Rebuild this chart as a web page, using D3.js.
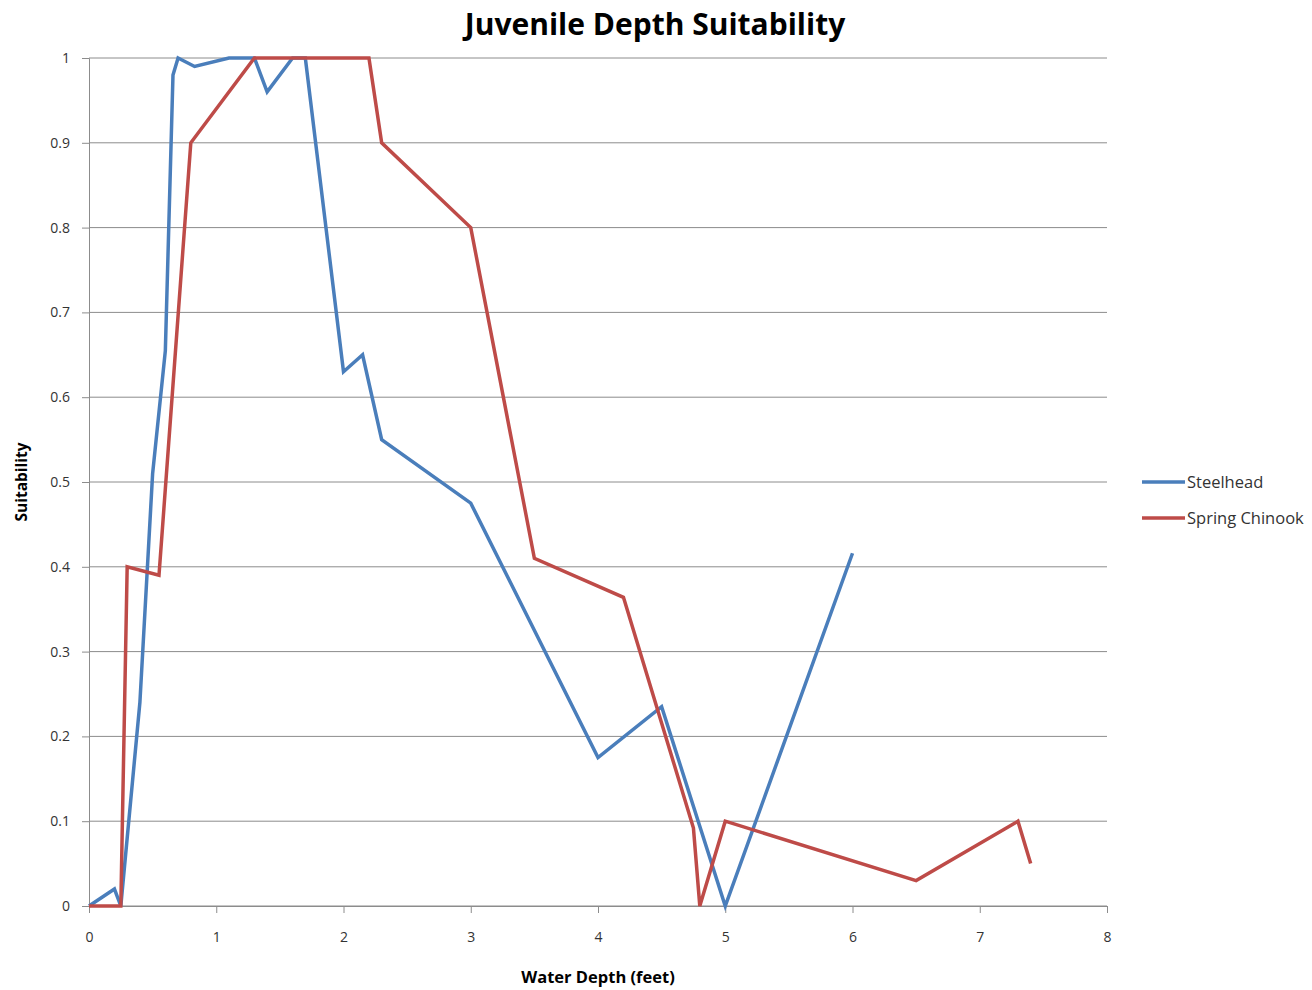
<!DOCTYPE html>
<html><head><meta charset="utf-8">
<script src="https://cdn.jsdelivr.net/npm/d3@7"></script>
<style>body{margin:0;background:#fff}svg{display:block}</style>
</head><body>
<svg id="c" width="1312" height="990"></svg>
<script>
const title = "Juvenile Depth Suitability";
const xTitle = "Water Depth (feet)";
const yTitle = "Suitability";
const xTicks = [0,1,2,3,4,5,6,7,8];
const yTicks = [0,0.1,0.2,0.3,0.4,0.5,0.6,0.7,0.8,0.9,1];
const seriesNames = ["Steelhead","Spring Chinook"];
const steelheadX = [0,0.2,0.25,0.4,0.5,0.6,0.66,0.7,0.83,1.1,1.3,1.4,1.6,1.7,2.0,2.15,2.3,3.0,4.0,4.5,5.0,6.0];
const steelheadY = [0,0.02,0,0.24,0.51,0.655,0.98,1.0,0.99,1.0,1.0,0.96,1.0,1.0,0.63,0.65,0.55,0.475,0.175,0.235,0,0.416];
const chinookX = [0,0.25,0.3,0.55,0.8,1.3,2.2,2.3,3.0,3.5,4.2,4.75,4.8,5.0,6.5,7.3,7.4];
const chinookY = [0,0,0.4,0.39,0.9,1.0,1.0,0.9,0.8,0.41,0.364,0.092,0,0.1,0.03,0.1,0.05];
const colors = ["#4a7ebb","#be4b48"];

const svg = d3.select("#c");
const L=89,R=1107,T=58,B=906;
const x = d3.scaleLinear().domain([0,8]).range([L,R]);
const y = d3.scaleLinear().domain([0,1]).range([B,T]);
const font = "'Open Sans', sans-serif";

// gridlines
svg.append("g").selectAll("line").data(yTicks).join("line")
  .attr("x1",L).attr("x2",R).attr("y1",d=>y(d)).attr("y2",d=>y(d))
  .attr("stroke","#8c8c8c").attr("stroke-width",1);

// axes
const xa = svg.append("g").attr("transform",`translate(0,${B})`)
  .call(d3.axisBottom(x).tickValues(xTicks).tickSize(7).tickPadding(19).tickFormat(d3.format("d")));
const ya = svg.append("g").attr("transform",`translate(${L},0)`)
  .call(d3.axisLeft(y).tickValues(yTicks).tickSize(7).tickPadding(12).tickFormat(d=>d===0||d===1?d3.format("d")(d):d3.format(".1f")(d)));
[xa,ya].forEach(a=>{
  a.select(".domain").attr("stroke","#8c8c8c");
  a.selectAll(".tick line").attr("stroke","#8c8c8c");
  a.selectAll("text").attr("font-family",font).attr("font-size",14).attr("fill","#333");
});

// lines
const line = d3.line().x(d=>x(d[0])).y(d=>y(d[1]));
const data = [d3.zip(steelheadX,steelheadY), d3.zip(chinookX,chinookY)];
data.forEach((d,i)=>{
  svg.append("path").datum(d).attr("d",line).attr("fill","none")
    .attr("stroke",colors[i]).attr("stroke-width",3.5).attr("stroke-linejoin","miter");
});

// titles
svg.append("text").attr("x",655).attr("y",35).attr("text-anchor","middle")
  .attr("font-family",font).attr("font-weight","bold").attr("font-size",30).attr("fill","#000").text(title);
svg.append("text").attr("x",(L+R)/2).attr("y",983).attr("text-anchor","middle")
  .attr("font-family",font).attr("font-weight","bold").attr("font-size",16.5).attr("fill","#000").text(xTitle);
svg.append("text").attr("transform",`translate(27,${(T+B)/2}) rotate(-90)`).attr("text-anchor","middle")
  .attr("font-family",font).attr("font-weight","bold").attr("font-size",15.5).attr("fill","#000").text(yTitle);

// legend
seriesNames.forEach((n,i)=>{
  const ly = 482 + i*36;
  svg.append("line").attr("x1",1142).attr("x2",1185).attr("y1",ly).attr("y2",ly)
    .attr("stroke",colors[i]).attr("stroke-width",3.5);
  svg.append("text").attr("x",1187).attr("y",ly+6).attr("font-family",font).attr("font-size",16.5)
    .attr("fill","#333").text(n);
});
</script>
</body></html>
